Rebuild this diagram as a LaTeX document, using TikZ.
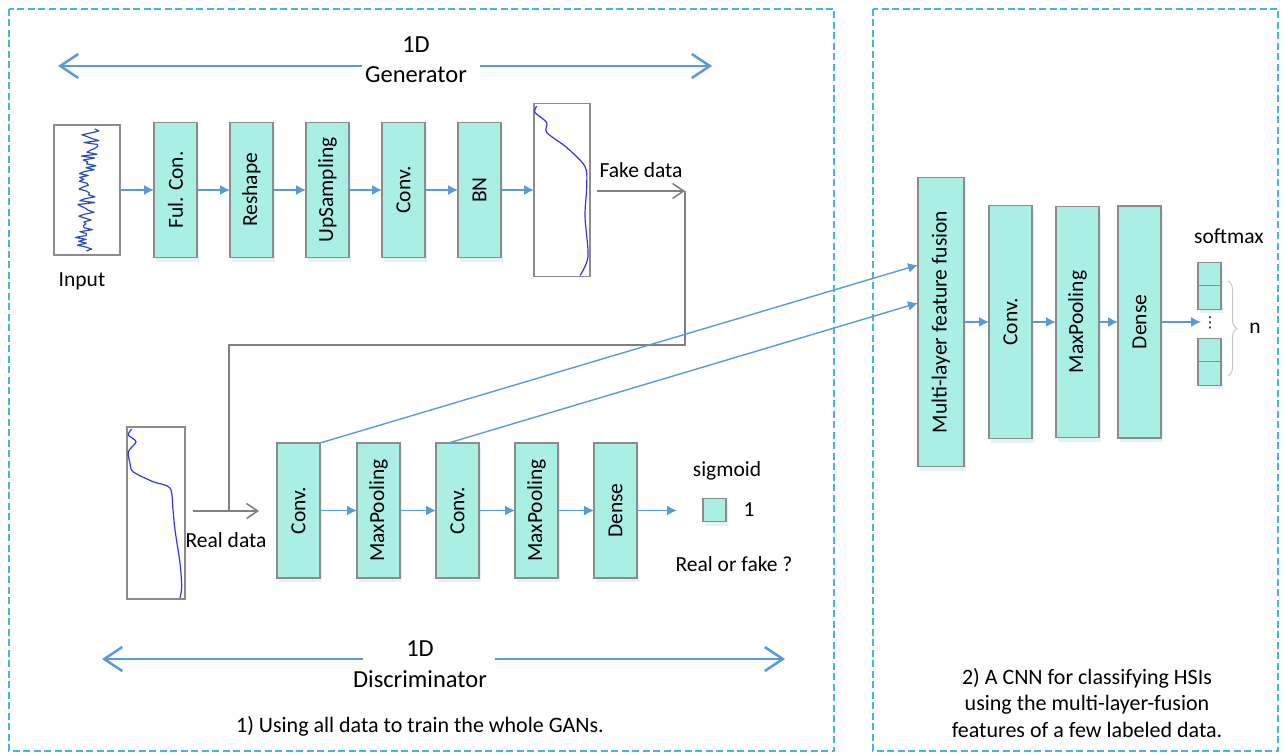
\documentclass[tikz,border=0pt]{standalone}
\usepackage{fontspec}
\setmainfont{Carlito}
\newfontfamily\symbolfont{DejaVu Sans}
\usepackage{xcolor}
\usepackage{tikz}
\usetikzlibrary{arrows.meta, positioning, shadows, calc, decorations.pathreplacing}

\definecolor{layerfill}{HTML}{A9EFE4}
\definecolor{layerline}{HTML}{8C8C8C}
\definecolor{flowblue}{HTML}{5B9BD5}
\definecolor{framecyan}{HTML}{45B5E0}
\definecolor{feedgray}{HTML}{808080}
\definecolor{spectrum}{HTML}{3535E0}
\definecolor{noiseblue}{HTML}{2B4FB0}

\begin{document}
\begin{tikzpicture}[
    x=1pt, y=-1pt,
    font=\fontsize{21.5}{26}\selectfont,
    node distance=33pt,
    layer/.style={rectangle, draw=layerline, line width=1.3pt, fill=layerfill, minimum width=43pt, minimum height=135pt, inner sep=0pt, outer sep=0pt, drop shadow={shadow xshift=2pt, shadow yshift=-4pt, fill=flowblue!30, opacity=0.5}},
    cell/.style={layer, minimum width=23pt, minimum height=23.5pt},
    databox/.style={rectangle, draw=layerline, line width=1.3pt, fill=white, inner sep=0pt, outer sep=0pt},
    flow/.style={-{Latex[length=10pt, width=10pt]}, draw=flowblue, line width=1.4pt},
    feed/.style={draw=feedgray, line width=1.6pt},
    feedarrow/.style={feed, -{Straight Barb[length=11pt, width=15pt]}},
    halfspan/.style={-{Straight Barb[length=18pt, width=24pt]}, draw=flowblue, line width=2.5pt},
    frame/.style={draw=framecyan, line width=1.3pt, dash pattern=on 7pt off 3.5pt},
    curve/.style={draw=spectrum, line width=1.2pt, line join=round},
    biglabel/.style={font=\fontsize{24.5}{28}\selectfont},
    caption/.style={align=center, font=\fontsize{22}{26.5}\selectfont},
]
\useasboundingbox (0,0) rectangle (1284,754);

% two dashed panels
\draw[frame] (9,9) rectangle (834,751);
\draw[frame] (873,9) rectangle (1278,751);

% generator
\node[biglabel] (gendim) at (416,45) {1D};
\node[biglabel] (genlbl) at (416,75) {Generator};
\coordinate (genleft) at (58,66);
\coordinate (genright) at (712,66);
\draw[halfspan] (genlbl.west |- genleft) -- (genleft);
\draw[halfspan] ([xshift=10pt]genlbl.east |- genright) -- (genright);

\node[databox, minimum width=66pt, minimum height=130pt] (input) at (87,190) {};
\node[below=14pt of input, xshift=-5pt] (inputlbl) {Input};
\node[layer, right=34pt of input] (fulcon) {\rotatebox{90}{Ful. Con.}};
\node[layer, right=of fulcon] (reshape) {\rotatebox{90}{Reshape}};
\node[layer, right=of reshape] (upsample) {\rotatebox{90}{UpSampling}};
\node[layer, right=of upsample] (gconv) {\rotatebox{90}{Conv.}};
\node[layer, right=of gconv] (gbn) {\rotatebox{90}{BN}};
\node[databox, minimum width=56pt, minimum height=173pt, right=of gbn] (fake) {};

\foreach \a/\b in {input/fulcon, fulcon/reshape, reshape/upsample, upsample/gconv, gconv/gbn, gbn/fake}
    \draw[flow] (\a) -- (\b);

% noise fed to the generator
\begin{scope}[shift={(input.north west)}]
    \pgfmathsetseed{12}
    \draw[draw=noiseblue, line width=1.2pt, line join=round]
        plot[domain=4:126, samples=64, variable=\t] ({37-8*\t/130+9*rand}, {\t});
\end{scope}

% generated spectrum
\begin{scope}[shift={(fake.north west)}]
    \draw[curve] plot[smooth] coordinates {(2.7,2.7) (1,9) (12.7,19) (12.7,29) (32.7,44) (51,63) (52.7,83) (51,113) (54,153) (46,172)};
\end{scope}

% fake data goes round to the discriminator
\coordinate (fturn) at (685,191);
\coordinate (rjoin) at (229,511);
\draw[feedarrow] ([xshift=7pt]fake.east |- fturn) -- node[above=9pt] (fakelbl) {Fake data} (fturn);
\draw[feed] (fturn) -- ++(0,154) -| (rjoin);

% discriminator
\node[databox, minimum width=58pt, minimum height=172pt] (real) at (156,513) {};
\begin{scope}[shift={(real.north west)}]
    \draw[curve] plot[smooth] coordinates {(4.7,2) (1.3,8) (9,14.7) (1.3,24.7) (3,36) (6,44.7) (26,54.7) (43,61) (46,83) (48,103) (53,136) (54.7,159.7) (53,171)};
\end{scope}

\node[layer] (dconv1) at (298.5,510.5) {\rotatebox{90}{Conv.}};
\node[layer, right=37pt of dconv1] (dpool1) {\rotatebox{90}{MaxPooling}};
\node[layer, right=36pt of dpool1] (dconv2) {\rotatebox{90}{Conv.}};
\node[layer, right=36pt of dconv2] (dpool2) {\rotatebox{90}{MaxPooling}};
\node[layer, right=36pt of dpool2] (ddense) {\rotatebox{90}{Dense}};

\draw[feedarrow] ([xshift=8pt]real.east |- rjoin) -- node[below=17pt] (reallbl) {Real data} ([xshift=-18pt]dconv1.west |- rjoin);

\foreach \a/\b in {dconv1/dpool1, dpool1/dconv2, dconv2/dpool2, dpool2/ddense}
    \draw[flow] (\a) -- (\b);
\draw[flow] (ddense.east) -- ++(40,0);

\node[cell] (sigcell) at (714.5,510) {};
\node[right=14pt of sigcell] (sigone) {1};
\node (sigmoid) at (727,471) {sigmoid};
\node (verdict) at (734,564) {Real or fake ?};

\node[biglabel] (disdim) at (420,649) {1D};
\node[biglabel] (dislbl) at (420,679) {Discriminator};
\coordinate (disleft) at (102,659);
\coordinate (disright) at (785,659);
\draw[halfspan] ([xshift=13pt]dislbl.west |- disleft) -- (disleft);
\draw[halfspan] ([xshift=5pt]dislbl.east |- disright) -- (disright);

\node[caption] (gancap) at (420,726) {1) Using all data to train the whole GANs.};

% classifier on fused features
\node[layer, minimum width=46pt, minimum height=289pt] (fusion) at (941,322) {\rotatebox{90}{Multi-layer feature fusion}};
\node[layer, minimum height=233pt, right=25pt of fusion] (cconv) {\rotatebox{90}{Conv.}};
\node[layer, minimum height=231pt, right=24pt of cconv] (cpool) {\rotatebox{90}{MaxPooling}};
\node[layer, minimum height=232pt, right=19pt of cpool] (cdense) {\rotatebox{90}{Dense}};

\foreach \a/\b in {fusion/cconv, cconv/cpool, cpool/cdense}
    \draw[flow] (\a) -- (\b);
\draw[flow] (cdense.east) -- ++(40,0);

\draw[flow] (dconv1.north east) -- ([yshift=57pt]fusion.west);
\draw[flow] ([xshift=-9pt]dconv2.north) -- ([yshift=19pt]fusion.west);

\node[cell] (soft1) at (1209.5,274) {};
\node[cell, below=0pt of soft1] (soft2) {};
\node[cell] (soft3) at (1209.5,350) {};
\node[cell, below=0pt of soft3] (soft4) {};
\node[font=\symbolfont\fontsize{15}{15}\selectfont, inner sep=0pt] (softdots) at (1210,323) {⋮};
\draw[draw=gray!45, line width=1pt, decorate, decoration={brace, amplitude=9pt}] (1228,281) -- (1228,376);
\node (ncls) at (1255,328) {n};
\node (softlbl) at (1229,236) {softmax};

\node[caption] (cnncap) at (1087,703) {2) A CNN for classifying HSIs\\using the multi-layer-fusion\\features of a few labeled data.};
\end{tikzpicture}
\end{document}
